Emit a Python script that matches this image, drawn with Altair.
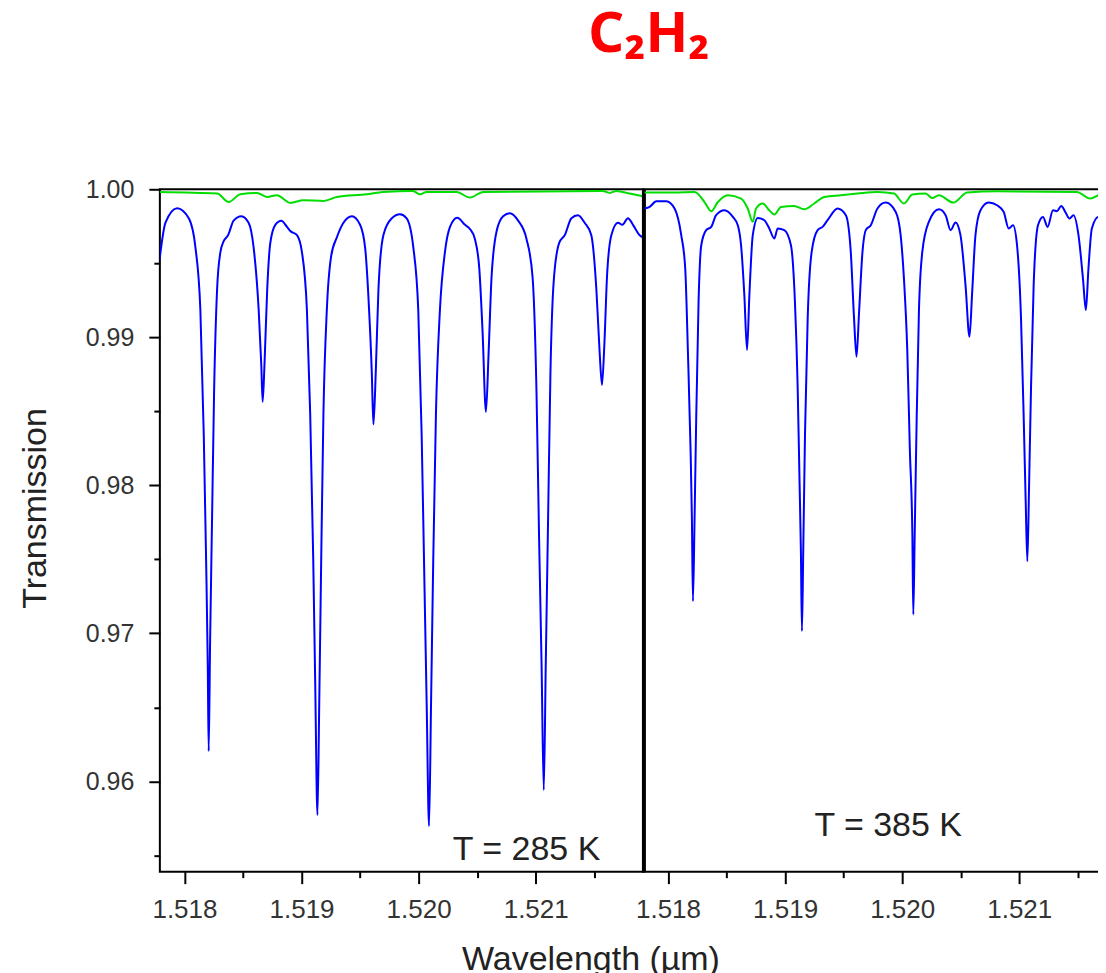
import altair as alt
import pandas as pd

# ---------------- data ----------------
wl_285 = [1.517787, 1.517838, 1.517938, 1.518037, 1.518094, 1.518136, 1.518165, 1.518185, 1.518199, 1.518207,
          1.518219, 1.518236, 1.518253, 1.518279, 1.518307, 1.518335, 1.518373, 1.518420, 1.518486, 1.518548,
          1.518591, 1.518634, 1.518656, 1.518668, 1.518685, 1.518707, 1.518733, 1.518776, 1.518827, 1.518876,
          1.518904, 1.518961, 1.519003, 1.519046, 1.519074, 1.519100, 1.519117, 1.519136, 1.519151, 1.519168,
          1.519187, 1.519216, 1.519253, 1.519302, 1.519358, 1.519430, 1.519500, 1.519543, 1.519577, 1.519600,
          1.519614, 1.519634, 1.519657, 1.519699, 1.519771, 1.519841, 1.519898, 1.519955, 1.519997, 1.520026,
          1.520046, 1.520069, 1.520089, 1.520106, 1.520125, 1.520148, 1.520182, 1.520225, 1.520268, 1.520330,
          1.520396, 1.520438, 1.520481, 1.520518, 1.520546, 1.520575, 1.520598, 1.520623, 1.520666, 1.520722,
          1.520779, 1.520850, 1.520922, 1.520973, 1.521007, 1.521029, 1.521050, 1.521069, 1.521086, 1.521106,
          1.521126, 1.521154, 1.521200, 1.521248, 1.521305, 1.521361, 1.521418, 1.521475, 1.521518, 1.521546,
          1.521566, 1.521587, 1.521609, 1.521646, 1.521703, 1.521740, 1.521788, 1.521831, 1.521888, 1.521917]
tr_285 = [0.99521, 0.99774, 0.99872, 0.99804, 0.99606, 0.99184, 0.98341, 0.97498, 0.96797, 0.96204,
          0.96939, 0.97782, 0.98624, 0.99326, 0.99575, 0.99649, 0.99690, 0.99788, 0.99818, 0.99774,
          0.99606, 0.99184, 0.98820, 0.98564, 0.98847, 0.99326, 0.99636, 0.99760, 0.99788, 0.99746,
          0.99718, 0.99690, 0.99577, 0.99184, 0.98483, 0.97498, 0.96655, 0.95772, 0.96514, 0.97498,
          0.98483, 0.99184, 0.99548, 0.99676, 0.99774, 0.99818, 0.99760, 0.99606, 0.99184, 0.98763,
          0.98411, 0.98763, 0.99326, 0.99690, 0.99804, 0.99831, 0.99804, 0.99606, 0.99184, 0.98341,
          0.97498, 0.96514, 0.95698, 0.96514, 0.97498, 0.98483, 0.99184, 0.99577, 0.99746, 0.99808,
          0.99760, 0.99732, 0.99663, 0.99467, 0.99043, 0.98496, 0.98901, 0.99407, 0.99717, 0.99818,
          0.99838, 0.99788, 0.99663, 0.99409, 0.98624, 0.97640, 0.96797, 0.95941, 0.96797, 0.97782,
          0.98763, 0.99380, 0.99636, 0.99690, 0.99804, 0.99825, 0.99774, 0.99690, 0.99326, 0.98901,
          0.98678, 0.98962, 0.99409, 0.99690, 0.99774, 0.99760, 0.99804, 0.99760, 0.99690, 0.99676]

wl_285_ref = [1.517787, 1.518279, 1.518378, 1.518477, 1.518620, 1.518705, 1.518790, 1.518904, 1.519017, 1.519188,
              1.519302, 1.519558, 1.519697, 1.519952, 1.520012, 1.520069, 1.520325, 1.520438, 1.520552, 1.521572,
              1.521632, 1.521689, 1.521802, 1.521917]
tr_285_ref = [0.99982, 0.99971, 0.99914, 0.99966, 0.99975, 0.99948, 0.99960, 0.99908, 0.99926, 0.99921,
              0.99948, 0.99966, 0.99982, 0.99989, 0.99966, 0.99982, 0.99982, 0.99944, 0.99982, 0.99989,
              0.99975, 0.99989, 0.99971, 0.99953]

wl_385 = [1.517800, 1.517843, 1.517900, 1.517986, 1.518056, 1.518113, 1.518147, 1.518170, 1.518193, 1.518204,
          1.518213, 1.518227, 1.518241, 1.518261, 1.518284, 1.518326, 1.518369, 1.518411, 1.518482, 1.518554,
          1.518596, 1.518624, 1.518652, 1.518675, 1.518695, 1.518724, 1.518767, 1.518823, 1.518865, 1.518908,
          1.518937, 1.518993, 1.519050, 1.519084, 1.519107, 1.519124, 1.519135, 1.519144, 1.519155, 1.519170,
          1.519193, 1.519227, 1.519278, 1.519320, 1.519363, 1.519448, 1.519519, 1.519561, 1.519589, 1.519610,
          1.519632, 1.519661, 1.519689, 1.519732, 1.519789, 1.519859, 1.519945, 1.519987, 1.520015, 1.520044,
          1.520066, 1.520087, 1.520095, 1.520107, 1.520124, 1.520143, 1.520172, 1.520228, 1.520314, 1.520371,
          1.520413, 1.520456, 1.520498, 1.520541, 1.520575, 1.520598, 1.520626, 1.520669, 1.520739, 1.520811,
          1.520867, 1.520910, 1.520947, 1.520981, 1.521015, 1.521038, 1.521055, 1.521069, 1.521084, 1.521101,
          1.521123, 1.521160, 1.521203, 1.521242, 1.521288, 1.521322, 1.521359, 1.521393, 1.521429, 1.521463,
          1.521506, 1.521544, 1.521569, 1.521591, 1.521620, 1.521676, 1.521733]
tr_385 = [0.99870, 0.99881, 0.99919, 0.99919, 0.99870, 0.99690, 0.99467, 0.98903, 0.98229, 0.97782,
          0.97217, 0.97782, 0.98456, 0.99240, 0.99622, 0.99724, 0.99746, 0.99825, 0.99858, 0.99813,
          0.99757, 0.99622, 0.99285, 0.98914, 0.99285, 0.99690, 0.99806, 0.99791, 0.99735, 0.99668,
          0.99735, 0.99724, 0.99622, 0.99240, 0.98678, 0.98004, 0.97554, 0.97015, 0.97554, 0.98341,
          0.99128, 0.99577, 0.99724, 0.99746, 0.99791, 0.99870, 0.99825, 0.99577, 0.99128, 0.98869,
          0.99173, 0.99577, 0.99724, 0.99757, 0.99870, 0.99910, 0.99847, 0.99690, 0.99398, 0.98903,
          0.98229, 0.97667, 0.97127, 0.97667, 0.98456, 0.99173, 0.99577, 0.99780, 0.99865, 0.99825,
          0.99724, 0.99775, 0.99690, 0.99353, 0.99004, 0.99307, 0.99690, 0.99858, 0.99910, 0.99892,
          0.99847, 0.99735, 0.99757, 0.99622, 0.99128, 0.98454, 0.97891, 0.97487, 0.98004, 0.98678,
          0.99353, 0.99757, 0.99813, 0.99746, 0.99858, 0.99852, 0.99887, 0.99847, 0.99802, 0.99825,
          0.99690, 0.99398, 0.99184, 0.99465, 0.99735, 0.99813, 0.99780]

wl_385_ref = [1.517800, 1.518056, 1.518227, 1.518312, 1.518369, 1.518426, 1.518511, 1.518624, 1.518681, 1.518724,
              1.518752, 1.518809, 1.518865, 1.518908, 1.518965, 1.519078, 1.519164, 1.519249, 1.519334, 1.519476,
              1.519618, 1.519789, 1.519930, 1.520015, 1.520087, 1.520200, 1.520257, 1.520314, 1.520436, 1.520555,
              1.520811, 1.521492, 1.521606, 1.521691, 1.521742]
tr_385_ref = [0.99978, 0.99978, 0.99982, 0.99914, 0.99852, 0.99914, 0.99960, 0.99937, 0.99870, 0.99780,
              0.99870, 0.99904, 0.99858, 0.99829, 0.99881, 0.99887, 0.99865, 0.99904, 0.99948, 0.99960,
              0.99971, 0.99982, 0.99971, 0.99904, 0.99964, 0.99971, 0.99941, 0.99960, 0.99910, 0.99978,
              0.99987, 0.99982, 0.99937, 0.99964, 0.99971]

temps = ["T = 285 K", "T = 385 K"]
x_domain = [1.51779, 1.52192]
y_domain = [0.9539, 1.0]
x_major = [1.518, 1.519, 1.520, 1.521]
x_minor = [1.5185, 1.5195, 1.5205, 1.5215]
y_major = [0.96, 0.97, 0.98, 0.99, 1.00]
y_minor = [0.955, 0.965, 0.975, 0.985, 0.995]

# ---------------- styling ----------------
FONT = "Liberation Sans"
W, H = 484, 683
BLUE = "#0000ff"
GREEN = "#00dd00"

xs = alt.Scale(domain=x_domain, nice=False, zero=False)
ys = alt.Scale(domain=y_domain, nice=False, zero=False)


def x_axis_major(with_title):
    kw = dict(values=x_major, format=".3f", orient="bottom", tickSize=12, tickWidth=2,
              tickColor="black", labelFont=FONT, labelFontSize=26, labelColor="#333",
              labelPadding=13, domain=False, grid=False)
    if with_title:
        kw.update(title="Wavelength (\u00b5m)", titleFont=FONT, titleFontSize=34,
                  titleFontWeight="normal", titleColor="#222", titleX=431, titleY=98,
                  titleAlign="center", titleBaseline="alphabetic")
    else:
        kw.update(title=None)
    return alt.Axis(**kw)


x_axis_minor = alt.Axis(values=x_minor, orient="bottom", tickSize=6, tickWidth=2,
                        tickColor="black", labels=False, domain=False, grid=False, title=None)

y_axis_major = alt.Axis(values=y_major, format=".2f", orient="left", tickSize=11, tickWidth=2,
                        tickColor="black", labelFont=FONT, labelFontSize=25, labelColor="#333",
                        labelPadding=15, domain=False, grid=False,
                        title="Transmission", titleFont=FONT, titleFontSize=34,
                        titleFontWeight="normal", titleColor="#222", titleAngle=270,
                        titleX=-114, titleY=319, titleAlign="center", titleBaseline="alphabetic")
y_axis_minor = alt.Axis(values=y_minor, orient="left", tickSize=6, tickWidth=2,
                        tickColor="black", labels=False, domain=False, grid=False, title=None)
y_axis_divider = alt.Axis(orient="left", domain=True, domainWidth=4, domainColor="black",
                          ticks=False, labels=False, grid=False, title=None)


def panel(wl, tr, wl_ref, tr_ref, label, left, label_x, label_y):
    blue_df = pd.DataFrame({"wl": wl, "tr": tr})
    green_df = pd.DataFrame({"wl": wl_ref, "tr": tr_ref})
    blue = alt.Chart(blue_df).mark_line(color=BLUE, strokeWidth=2, clip=True,
                                        interpolate="monotone").encode(
        x=alt.X("wl:Q", scale=xs, axis=x_axis_major(left)),
        y=alt.Y("tr:Q", scale=ys, axis=y_axis_major if left else y_axis_divider),
    )
    green_y_axis = y_axis_minor if left else None
    green = alt.Chart(green_df).mark_line(color=GREEN, strokeWidth=2, clip=True,
                                          interpolate="monotone").encode(
        x=alt.X("wl:Q", scale=xs, axis=x_axis_minor),
        y=alt.Y("tr:Q", scale=ys, axis=green_y_axis),
    )
    txt = alt.Chart(pd.DataFrame({"label": [label]})).mark_text(
        font=FONT, fontSize=34, color="#222", align="center", baseline="alphabetic"
    ).encode(text="label:N", x=alt.value(label_x), y=alt.value(label_y))
    return alt.layer(green, blue, txt).resolve_axis(x="independent", y="independent").properties(
        width=W, height=H, view=alt.ViewBackground(stroke="black", strokeWidth=2)
    )


left_panel = panel(wl_285, tr_285, wl_285_ref, tr_285_ref, temps[0], True, 367, 671)
right_panel = panel(wl_385, tr_385, wl_385_ref, tr_385_ref, temps[1], False, 245, 647)

chart = alt.hconcat(left_panel, right_panel, spacing=0, bounds="flush").properties(
    title=alt.TitleParams(text="C\u2082H\u2082", font="Noto Sans", fontSize=56, fontWeight="bold",
                          color="#ff0000", anchor="middle", baseline="alphabetic", offset=68, dx=76),
    padding={"left": 10, "top": -1, "right": -30, "bottom": 0},
).configure(background="white")

chart.save("out.html", embed_options={"renderer": "svg", "actions": False})
